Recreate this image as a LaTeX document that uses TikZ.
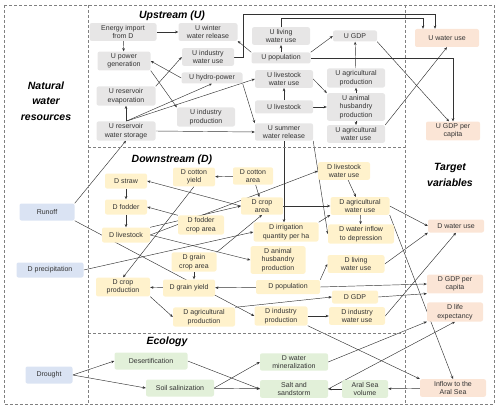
\documentclass[tikz,border=0pt]{standalone}
\usepackage{fontspec}
\setmainfont{Liberation Sans}
\usetikzlibrary{arrows.meta,calc,positioning,backgrounds}
\definecolor{ugray}{HTML}{E7E6E6}
\definecolor{dyellow}{HTML}{FFF2CC}
\definecolor{egreen}{HTML}{E2F0D9}
\definecolor{nblue}{HTML}{DAE3F3}
\definecolor{tpeach}{HTML}{FBE5D6}
\definecolor{ink}{HTML}{333333}
\tikzset{
  box/.style={rounded corners=2pt,align=center,inner xsep=1pt,inner ysep=2pt,text=ink,
    font=\fontsize{7}{8.5}\selectfont},
  ubox/.style={box,fill=ugray},
  dbox/.style={box,fill=dyellow},
  ebox/.style={box,fill=egreen},
  nbox/.style={box,fill=nblue},
  tbox/.style={box,fill=tpeach},
  frame/.style={draw=gray,dash pattern=on 3pt off 2pt,line width=0.6pt},
  title/.style={align=center,font=\fontsize{10.5}{15.5}\selectfont\bfseries\itshape},
  link/.style={-{Stealth[length=3.2pt,width=2.6pt]},draw=ink,line width=0.45pt}
}
\begin{document}
\begin{tikzpicture}[x=1pt,y=-1pt]
\useasboundingbox (0,0) rectangle (500,409);
\draw[frame] (4,5) rectangle (494,404);
\draw[frame] (88,5)--(88,404) (405,5)--(405,404) (88,147)--(405,147) (88,333)--(405,333);
\node[title] (tnat) at (46,101) {Natural\\water\\resources};
\node[title] (tup) at (172,16) {Upstream (U)};
\node[title] (tdown) at (172,160) {Downstream (D)};
\node[title] (teco) at (167,342) {Ecology};
\node[title] (ttar) at (450,175) {Target\\variables};
\foreach \n/\x/\y/\w/\h/\t in {
  uenergy/123/32/67/0/{Energy import\\from D}, uwinter/208/32/59/0/{U winter\\water release},
  upower/124/61/53/0/{U power\\generation}, uind/208/57/52/0/{U industry\\water use},
  uhydro/212/78/61/11/{U hydro-power}, uevap/126/96/59/0/{U reservoir\\evaporation},
  uindp/206/117/58/0/{U industry\\production}, ustor/126/131/59/0/{U reservoir\\water storage},
  uliving/281/36/58/0/{U living\\water use}, upop/281/58/59/11/{U population},
  ulsw/284/79/58/0/{U livestock\\water use}, uls/284/107/58/13/{U livestock},
  usummer/284/132/58/0/{U summer\\water release}, ugdp/355/36/44/11/{U GDP},
  uagp/356/78/58/0/{U agricultural\\production}, uanim/356/107/58/0/{U animal\\husbandry\\production},
  uagw/356/134/58/0/{U agricultural\\water use}}
  \node[ubox,minimum width=\w pt,minimum height=\h pt] (\n) at (\x,\y) {\t};
\foreach \n/\x/\y/\w/\h/\t in {
  dstraw/126/181/42/15/{D straw}, dfodder/126/207/42/15/{D fodder}, dlivestock/126/235/48/15/{D livestock},
  dcotyield/194/177/42/0/{D cotton\\yield}, dcotarea/253/176/40/0/{D cotton\\area},
  dcroparea/262/206/42/0/{D crop\\area}, dfodcrop/201/225/46/0/{D fodder\\crop area},
  dirr/286/232/65/0/{D irrigation\\quantity per ha}, dgraincrop/194/262/45/0/{D grain\\crop area},
  danim/278/260/55/0/{D animal\\husbandry\\production}, dlsw/344/171/52/0/{D livestock\\water use},
  dagw/360/206/59/0/{D agricultural\\water use}, dinflow/361/234/66/0/{D water inflow\\to depression},
  dliving/356/264/57/0/{D living\\water use}, dpop/288/287/64/14/{D population},
  dgdp/355/297/46/13/{D GDP}, dgrainy/189/288/52/17/{D grain yield},
  dcropprod/123/287/54/0/{D crop\\production}, dagprod/204/317/62/0/{D agricultural\\production},
  dindp/281/316/53/0/{D industry\\production}, dindw/357/316/56/0/{D industry\\water use}}
  \node[dbox,minimum width=\w pt,minimum height=\h pt] (\n) at (\x,\y) {\t};
\foreach \n/\x/\y/\w/\h/\t in {
  edesert/151/361/73/17/{Desertification}, esoil/180/388/68/17/{Soil salinization},
  emin/294/362/68/0/{D water\\mineralization}, esalt/294/389/68/0/{Salt and\\sandstorm},
  earal/365/389/46/0/{Aral Sea\\volume}}
  \node[ebox,minimum width=\w pt,minimum height=\h pt] (\n) at (\x,\y) {\t};
\foreach \n/\x/\y/\w/\h/\t in {
  nrunoff/47/212/55/17/{Runoff}, nprec/50/270/67/15/{D precipitation}, ndrought/49/375/47/17/{Drought}}
  \node[nbox,minimum width=\w pt,minimum height=\h pt] (\n) at (\x,\y) {\t};
\foreach \n/\x/\y/\w/\h/\t in {
  tuwater/447/38/64/18/{U water use}, tugdppc/453/131/54/0/{U GDP per\\capita},
  tdwater/456/226/56/13/{D water use}, tdgdppc/455/284/56/0/{D GDP per\\capita},
  tdlife/455/312/56/0/{D life\\expectancy}, tinflow/453/388/66/0/{Inflow to the\\Aral Sea}}
  \node[tbox,minimum width=\w pt,minimum height=\h pt] (\n) at (\x,\y) {\t};
\begin{scope}[on background layer]
\foreach \a/\b in {uenergy/upower, uenergy.east/uwinter.west, uhydro.west/upower.east,
  upower.south east/uindp.north west, uevap.north east/uind.west, ustor/uevap,
  ustor.east/usummer.west, uhydro.south east/usummer.north west, upop.north west/uwinter.south east,
  upop/uliving, upop.north east/ugdp.west, uagp/ugdp, uanim/uagp, uanim/uagw, uls/uanim, uls/ulsw,
  ulsw.east/uanim.north west, uagw.north east/tuwater.south, nrunoff.north east/ustor.south,
  usummer.south east/dinflow.west, ustor.north/uhydro.south, ustor.north/ulsw.west}
  \draw[link] (\a)--(\b);
\draw[link] (ugdp.south east)--([xshift=-4pt]tugdppc.north);
\draw[link] (upop.east)-|(tugdppc.north);
\draw[link] (uind.east)--++(9,0)--++(0,-43)-|([xshift=-12pt]tuwater.north);
\draw[link] (uliving.north)--++(0,-9)-|([xshift=-24pt]tuwater.north);
\draw[link] (usummer.south)--(usummer.south|-dirr.north);
\foreach \a/\b in {dcotarea/dcotyield, dcotarea/dcroparea, dcroparea.west/dstraw.east,
  dstraw/dfodder, dfodder/dlivestock, dfodcrop.north west/dfodder.east, dcotyield.south/dcropprod.north,
  dlivestock.east/dlsw.west, dlivestock.north east/dcroparea.west, dlivestock.east/danim.west,
  nprec.east/dirr.west, nrunoff.south east/dindp.west, dgraincrop.north east/dcroparea.south,
  dcroparea/dagw, dirr.north east/dagw.south west, dagw/dinflow, dagw.east/tdwater.west, dlsw/dagw,
  dagw.south east/tinflow.north, dliving.east/tdwater.south west, dpop.north east/dliving.west,
  dpop/dgrainy, dpop.east/tdgdppc.west, dgdp.east/tdgdppc.south west, dindw.east/tdwater.south,
  dindp/dindw, dcropprod.south east/dagprod.west, dgrainy/dcropprod, dagprod.north east/dgdp.west,
  dindp.south east/tinflow.north west}
  \draw[link] (\a)--(\b);
\draw[link] (dgraincrop.south)--(dgraincrop.south|-dgrainy.north);
\foreach \a/\b in {tinflow/earal, earal/esalt, ndrought.east/edesert.west, ndrought.east/esoil.west,
  edesert.east/esalt.west, esoil.east/emin.west, esoil/esalt, emin.east/tdlife.south west,
  esalt.east/tdlife.south}
  \draw[link] (\a)--(\b);
\end{scope}
\end{tikzpicture}
\end{document}
